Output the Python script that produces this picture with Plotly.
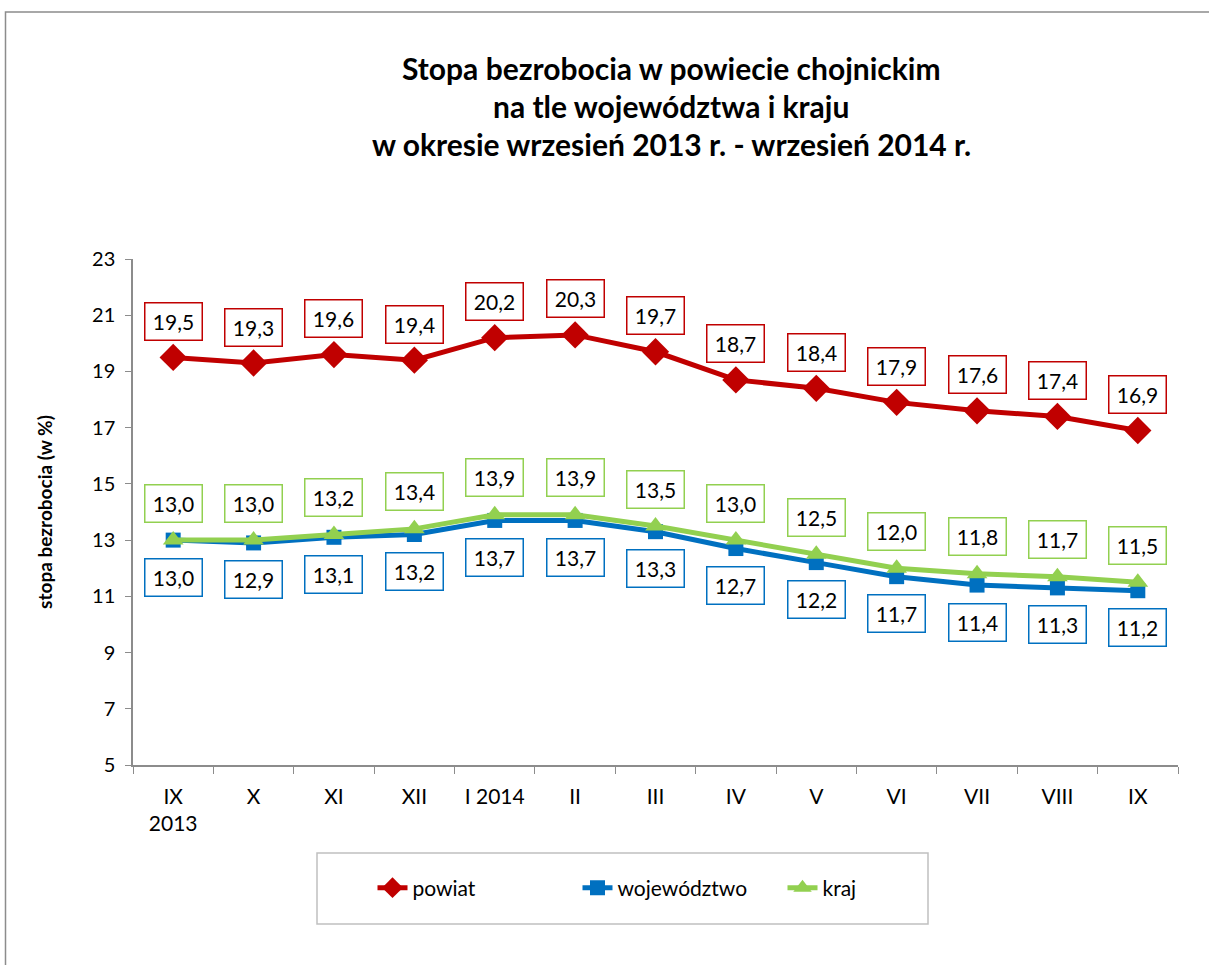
import plotly.graph_objects as go

# ---- data ----
months = ["2013-09", "2013-10", "2013-11", "2013-12", "2014-01", "2014-02", "2014-03",
          "2014-04", "2014-05", "2014-06", "2014-07", "2014-08", "2014-09"]
tick_labels = ["IX<br>2013", "X", "XI", "XII", "I 2014", "II", "III",
               "IV", "V", "VI", "VII", "VIII", "IX"]
powiat = [19.5, 19.3, 19.6, 19.4, 20.2, 20.3, 19.7, 18.7, 18.4, 17.9, 17.6, 17.4, 16.9]
wojewodztwo = [13.0, 12.9, 13.1, 13.2, 13.7, 13.7, 13.3, 12.7, 12.2, 11.7, 11.4, 11.3, 11.2]
kraj = [13.0, 13.0, 13.2, 13.4, 13.9, 13.9, 13.5, 13.0, 12.5, 12.0, 11.8, 11.7, 11.5]

title_lines = ["Stopa bezrobocia w powiecie chojnickim",
               "na tle województwa i kraju",
               "w okresie wrzesień 2013 r. - wrzesień 2014 r."]

RED = "#C00000"
BLUE = "#0070C0"
GREEN = "#92D050"
FONT = "Lato"

W, H = 1209, 965
L, R, T, B = 133, 31, 259, 200
pw, ph = W - L - R, H - T - B

def px_x(p):
    return (p - L) / pw

def px_y(p):
    return (H - B - p) / ph

fig = go.Figure()
fig.add_trace(go.Scatter(x=months, y=powiat, name="powiat", mode="lines+markers",
                         line=dict(color=RED, width=5),
                         marker=dict(symbol="diamond", size=21, color=RED)))
fig.add_trace(go.Scatter(x=months, y=wojewodztwo, name="województwo", mode="lines+markers",
                         line=dict(color=BLUE, width=5),
                         marker=dict(symbol="square", size=15, color=BLUE)))
fig.add_trace(go.Scatter(x=months, y=kraj, name="kraj", mode="lines+markers",
                         line=dict(color=GREEN, width=5),
                         marker=dict(symbol="triangle-up", size=18, color=GREEN)))

def fmt(v):
    return f"{v:.1f}".replace(".", ",")

annotations = []
for series, color, shift in [(powiat, RED, 36), (kraj, GREEN, 37), (wojewodztwo, BLUE, -37)]:
    for m, v in zip(months, series):
        annotations.append(dict(
            x=m, y=v, xref="x", yref="y", text=fmt(v), showarrow=False,
            yshift=shift, width=46, height=26, borderpad=5, borderwidth=1.5,
            bordercolor=color, bgcolor="white",
            font=dict(family=FONT, size=21, color="black")))

for i, (line, py) in enumerate(zip(title_lines, [68, 106, 144])):
    annotations.append(dict(
        x=px_x(671), y=px_y(py), xref="paper", yref="paper", text=f"<b>{line}</b>",
        showarrow=False, xanchor="center", yanchor="middle",
        font=dict(family=FONT, size=30, color="black")))

fig.update_layout(
    width=W, height=H,
    margin=dict(l=L, r=R, t=T, b=B),
    paper_bgcolor="white", plot_bgcolor="white",
    font=dict(family=FONT, color="black"),
    showlegend=True,
    legend=dict(orientation="h", x=px_x(680), y=px_y(888), xanchor="center", yanchor="middle",
                font=dict(family=FONT, size=21, color="black"),
                bgcolor="rgba(0,0,0,0)", entrywidth=160, entrywidthmode="pixels",
                itemclick=False),
    annotations=annotations,
    shapes=[
        dict(type="rect", xref="paper", yref="paper",
             x0=px_x(5.5), x1=px_x(1230), y0=px_y(12), y1=px_y(990),
             line=dict(color="#8C8C8C", width=1.5), layer="below"),
        dict(type="rect", xref="paper", yref="paper",
             x0=px_x(317), x1=px_x(928), y0=px_y(853), y1=px_y(924),
             line=dict(color="#C0C0C0", width=1.5), layer="below"),
    ],
)

fig.update_xaxes(type="category", tickvals=months, ticktext=tick_labels,
                 range=[-0.5, len(months) - 0.5],
                 tickson="boundaries", ticks="outside", ticklen=7, tickcolor="#8C8C8C",
                 showline=True, linecolor="#8C8C8C", linewidth=1.5, showgrid=False,
                 ticklabelstandoff=12,
                 tickfont=dict(family=FONT, size=21, color="black"))
fig.update_yaxes(range=[5, 23], dtick=2, tick0=5, ticks="outside", ticklen=6,
                 tickcolor="#8C8C8C", showline=True, linecolor="#8C8C8C", linewidth=1.5,
                 showgrid=False, zeroline=False, ticklabelstandoff=6,
                 tickfont=dict(family=FONT, size=20, color="black"),
                 title=dict(text="<b>stopa bezrobocia (w %)</b>", standoff=34,
                            font=dict(family=FONT, size=19, color="black")))

fig.write_html("out.html", config={"displayModeBar": False},
               post_script="document.body.style.margin='0';")
